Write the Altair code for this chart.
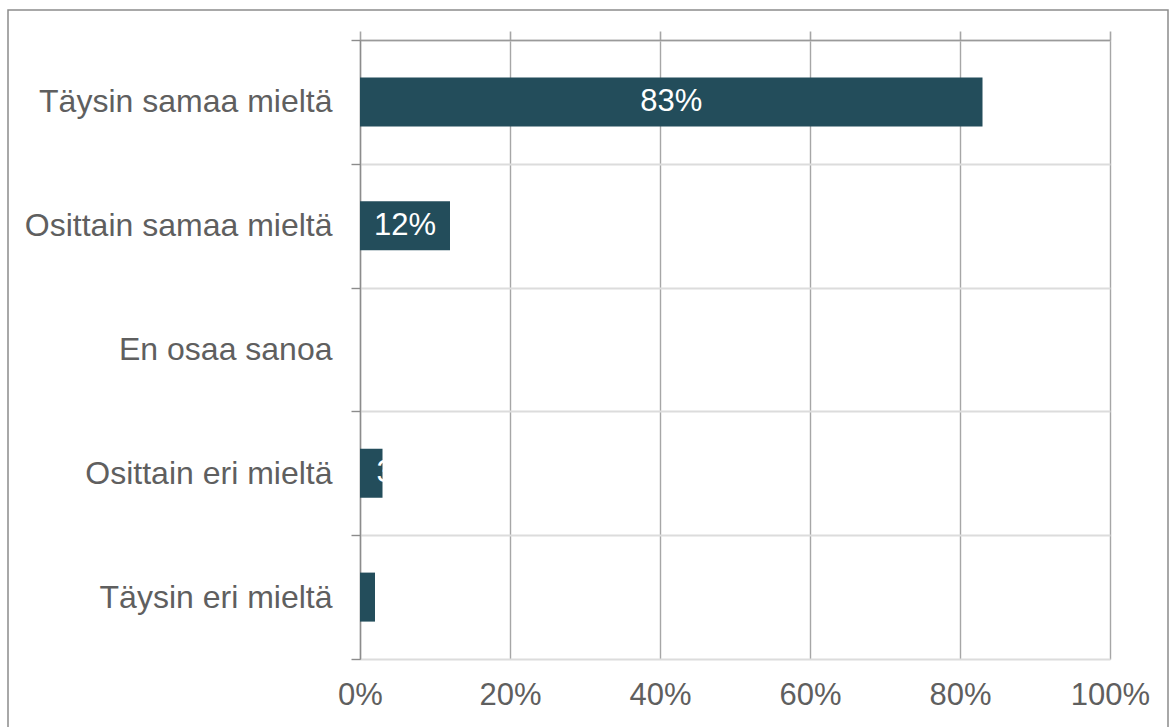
import altair as alt
import pandas as pd

categories = ["Täysin samaa mieltä", "Osittain samaa mieltä", "En osaa sanoa",
              "Osittain eri mieltä", "Täysin eri mieltä"]
values = [83, 12, 0, 3, 2]
labels = ["83%", "12%", "", "3%", ""]
x_ticks = [0, 20, 40, 60, 80, 100]

df = pd.DataFrame({"cat": categories, "val": values, "lab": labels})

FONT = "Liberation Sans"
BAR = "#234d5b"
TXT = "#5f5f5f"

xscale = alt.Scale(domain=[0, 100], nice=False)
yscale = alt.Scale(domain=categories, paddingInner=0, paddingOuter=0)

yaxis = alt.Axis(title=None, tickBand="extent", grid=True, gridColor="#dcdcdc",
                 gridWidth=2, ticks=True, tickColor="#8c8c8c", tickSize=9,
                 tickWidth=1.4, domain=True, domainColor="#8c8c8c",
                 domainWidth=1.4, labelFont=FONT, labelFontSize=32,
                 labelColor=TXT, labelPadding=19, labelLimit=400)

base = alt.Chart(df)

bars = base.mark_bar(size=49, color=BAR).encode(
    x=alt.X("val:Q", scale=xscale,
            axis=alt.Axis(values=x_ticks, labelExpr="datum.value + '%'", title=None,
                          domain=False, ticks=False, grid=True, gridColor="#a6a6a6",
                          gridWidth=1.4, labelFont=FONT, labelFontSize=31,
                          labelFlush=False, labelColor=TXT, labelPadding=21,
                          orient="bottom")),
    y=alt.Y("cat:N", scale=yscale, sort=categories, axis=yaxis),
)

top_axis = base.mark_bar(opacity=0).encode(
    x=alt.X("val:Q", scale=xscale,
            axis=alt.Axis(values=x_ticks, orient="top", labels=False, title=None,
                          domain=True, domainColor="#9a9a9a", domainWidth=1.6,
                          ticks=True, tickSize=9, tickColor="#a6a6a6", tickWidth=1.6,
                          grid=False)),
    y=alt.Y("cat:N", scale=yscale, sort=categories, axis=yaxis),
)

text_center = base.transform_filter("datum.val >= 10").transform_calculate(
    mid="datum.val / 2").mark_text(
    font=FONT, fontSize=31, color="white", align="center", baseline="middle").encode(
    x=alt.X("mid:Q", scale=xscale, axis=None),
    y=alt.Y("cat:N", scale=yscale, sort=categories, axis=yaxis),
    text="lab:N",
)

text_small = base.transform_filter("datum.val < 10 && datum.lab != ''").mark_text(
    font=FONT, fontSize=31, color="white", align="left", baseline="middle", dx=-6).encode(
    x=alt.X("val:Q", scale=xscale, axis=None),
    y=alt.Y("cat:N", scale=yscale, sort=categories, axis=yaxis),
    text="lab:N",
)

border = alt.Chart(pd.DataFrame({"a": [0]})).mark_rect(
    fillOpacity=0, stroke="#8c8c8c", strokeWidth=1.5).encode(
    x=alt.value(-352), x2=alt.value(808), y=alt.value(-30), y2=alt.value(720))

chart = alt.layer(bars, top_axis, text_center, text_small, border).resolve_axis(
    x="independent").properties(
    width=750, height=619,
    autosize=alt.AutoSizeParams(type="none"),
    padding={"left": 360, "top": 40, "right": 59, "bottom": 68},
).configure_view(strokeWidth=0).configure(background="white")

chart.save("out.html", embed_options={"renderer": "svg", "actions": False})
